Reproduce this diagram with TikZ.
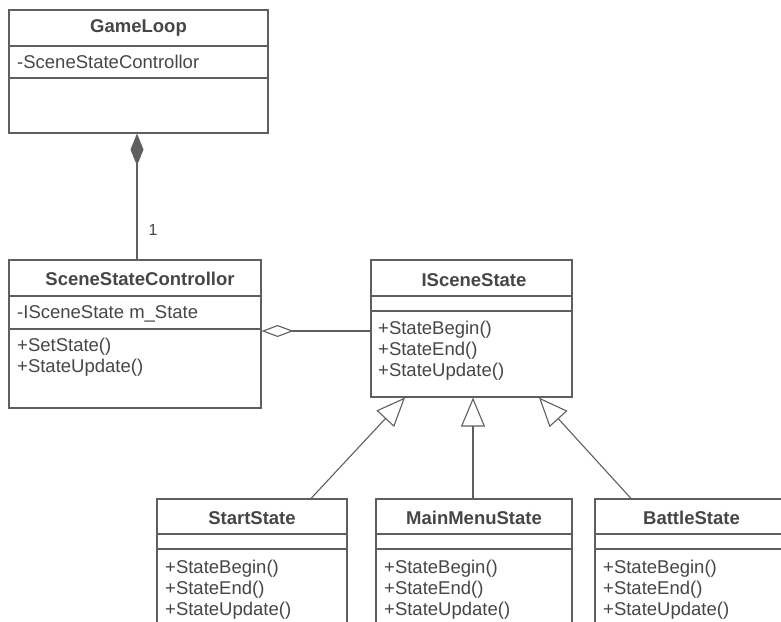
\documentclass[tikz,border=0pt]{standalone}
\usepackage{fontspec}
\setmainfont{Liberation Sans}
\usetikzlibrary{arrows.meta}
\definecolor{ln}{RGB}{95,95,95}
\definecolor{tx}{RGB}{70,70,70}
\begin{document}
\begin{tikzpicture}[x=1pt,y=-1pt,
  umlbox/.style={draw=ln,line width=1.1pt,rectangle,inner sep=0pt},
  divider/.style={draw=ln,line width=1.1pt},
  ttl/.style={font=\fontsize{18.5}{21}\selectfont\bfseries,text=tx,inner sep=0pt},
  mbr/.style={font=\fontsize{18.5}{21}\selectfont,text=tx,inner sep=0pt,anchor=west},
  conn/.style={draw=ln,line width=1.1pt},
  comp/.style={conn,-{Diamond[length=32pt,width=13pt,fill=ln]}},
  agg/.style={conn,-{Diamond[open,length=32pt,width=12pt,fill=white]}},
  inh/.style={conn,-{Triangle[open,length=29pt,width=24pt,fill=white]}}]
\useasboundingbox (0,0) rectangle (781,621);
\fill[white] (0,0) rectangle (781,621);
\begin{scope}
\clip (0,0) rectangle (781,621);
% GameLoop
\node[umlbox,minimum width=259pt,minimum height=123pt] (gl) at (138.5,71.5) {};
\draw[divider] (9,46) -- (268,46);
\draw[divider] (9,78) -- (268,78);
\node[ttl] (glt) at (138.5,28) {GameLoop};
\node[mbr] (gla) at (17,62) {-SceneStateControllor};
% SceneStateControllor
\node[umlbox,minimum width=252pt,minimum height=148pt] (ssc) at (135,334) {};
\draw[divider] (9,296) -- (261,296);
\draw[divider] (9,329) -- (261,329);
\node[ttl] (ssct) at (140,279) {SceneStateControllor};
\node[mbr] (ssca) at (17,314) {-ISceneState m\_State};
\node[mbr] (sscm1) at (17,347) {+SetState()};
\node[mbr] (sscm2) at (17,368) {+StateUpdate()};
% ISceneState
\node[umlbox,minimum width=201pt,minimum height=137pt] (iss) at (471.5,328.5) {};
\draw[divider] (371,296) -- (572,296);
\draw[divider] (371,311) -- (572,311);
\node[ttl] (isst) at (474,280) {ISceneState};
\node[mbr] (issm1) at (378,330) {+StateBegin()};
\node[mbr] (issm2) at (378,351) {+StateEnd()};
\node[mbr] (issm3) at (378,372) {+StateUpdate()};
% StartState
\node[umlbox,minimum width=190pt,minimum height=151pt] (st) at (252,574.5) {};
\draw[divider] (157,534) -- (347,534);
\draw[divider] (157,549) -- (347,549);
\node[ttl] (stt) at (252,518) {StartState};
\node[mbr] (stm1) at (165,569) {+StateBegin()};
\node[mbr] (stm2) at (165,590) {+StateEnd()};
\node[mbr] (stm3) at (165,611) {+StateUpdate()};
% MainMenuState
\node[umlbox,minimum width=196pt,minimum height=151pt] (mm) at (474,574.5) {};
\draw[divider] (376,534) -- (572,534);
\draw[divider] (376,549) -- (572,549);
\node[ttl] (mmt) at (474,518) {MainMenuState};
\node[mbr] (mmm1) at (384,569) {+StateBegin()};
\node[mbr] (mmm2) at (384,590) {+StateEnd()};
\node[mbr] (mmm3) at (384,611) {+StateUpdate()};
% BattleState
\node[umlbox,minimum width=195pt,minimum height=151pt] (bs) at (692.5,574.5) {};
\draw[divider] (595,534) -- (790,534);
\draw[divider] (595,549) -- (790,549);
\node[ttl] (bst) at (691.5,518) {BattleState};
\node[mbr] (bsm1) at (603,569) {+StateBegin()};
\node[mbr] (bsm2) at (603,590) {+StateEnd()};
\node[mbr] (bsm3) at (603,611) {+StateUpdate()};
% helper coordinates
\coordinate (xc) at (137,0);
\coordinate (ya) at (0,331);
\coordinate (xs1) at (311,0);
\coordinate (xt1) at (405,0);
\coordinate (xm) at (473,0);
\coordinate (xs3) at (631,0);
\coordinate (xt3) at (539,0);
% connectors
\draw[comp] (ssc.north -| xc) -- (gl.south -| xc);
\node[font=\fontsize{16}{18}\selectfont,text=tx,inner sep=0pt] (one) at (153,230) {1};
\draw[agg] (iss.west |- ya) -- (ssc.east |- ya);
\draw[inh] (st.north -| xs1) -- (iss.south -| xt1);
\draw[inh] (mm.north -| xm) -- (iss.south -| xm);
\draw[inh] (bs.north -| xs3) -- (iss.south -| xt3);
\end{scope}
\end{tikzpicture}
\end{document}
